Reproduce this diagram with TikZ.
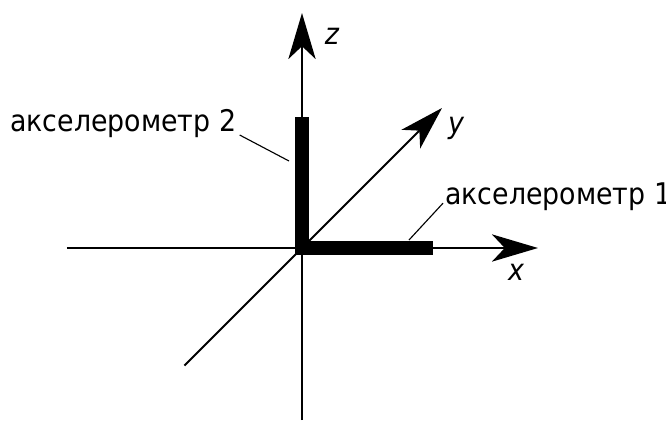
\documentclass[tikz,border=0pt]{standalone}
\usepackage{fontspec}
\setmainfont{DejaVu Sans Condensed}
\usetikzlibrary{arrows.meta,positioning,calc}

\begin{document}
\begin{tikzpicture}[
  axisline/.style={line width=2pt,-{Stealth[length=1.15cm,width=0.68cm,inset=0.32cm]}},
  diagline/.style={line width=1.5pt,-{Stealth[length=1.1cm,width=0.66cm,inset=0.3cm]}},
  accbar/.style={line width=0.33cm,line join=miter},
  leader/.style={line width=0.8pt},
  acclabel/.style={inner sep=0pt,font=\fontsize{21.2pt}{25pt}\selectfont},
  axislabel/.style={inner sep=0pt,font=\fontsize{21.2pt}{25pt}\selectfont\itshape}
]
\useasboundingbox (-7.55,-4.325) rectangle (9.1,6.2);

% axes
\coordinate (O) at (0,0);
\coordinate (xleft) at (-5.875,0);
\coordinate (xtip) at (5.9,0);
\coordinate (zbot) at (0,-4.3);
\coordinate (ztip) at (0,5.875);
\coordinate (ybot) at (-2.94,-2.94);
\coordinate (ytip) at (3.5,3.5);

\draw[axisline] (xleft) -- (xtip);
\draw[axisline] (zbot) -- (ztip);
\draw[diagline] (ybot) -- (ytip);

\node[axislabel] (xlab) at (5.35,-0.6) {x};
\node[axislabel] (ylab) at (3.85,3.0) {y};
\node[axislabel] (zlab) at (0.75,5.3) {z};

% accelerometer bars
\coordinate (acc1end) at (3.275,0);
\coordinate (acc2end) at (0,3.275);
\draw[accbar] (acc2end) -- (O) -- (acc1end);

% labels with leader lines
\node[acclabel,anchor=base west] (acc2) at (-7.3,2.925) {акселерометр 2};
\node[acclabel,anchor=base west] (acc1) at (3.575,1.1) {акселерометр 1};

\coordinate (acc2pt) at (-0.325,2.175);
\coordinate (acc1pt) at (2.675,0.2);
\draw[leader] ($(acc2.base east)+(0.08,-0.1)$) -- (acc2pt);
\draw[leader] ($(acc1.base west)+(-0.05,0.02)$) -- (acc1pt);

\end{tikzpicture}
\end{document}
